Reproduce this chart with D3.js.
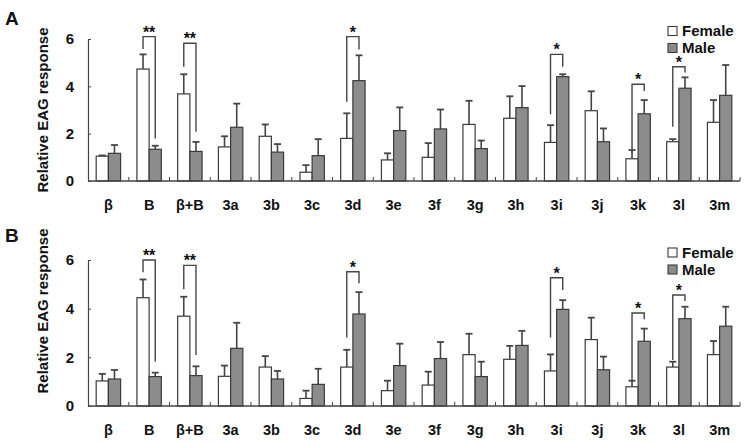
<!DOCTYPE html>
<html><head><meta charset="utf-8">
<script src="https://cdn.jsdelivr.net/npm/d3@7"></script>
<style>
html,body{margin:0;padding:0;background:#fff;}
svg{display:block;}
</style>
</head><body>
<svg id="chart" width="745" height="443"></svg>
<script>
const categories = ["β","B","β+B","3a","3b","3c","3d","3e","3f","3g","3h","3i","3j","3k","3l","3m"];
const yTicks = [0,2,4,6];
const seriesNames = ["Female","Male"];

const femaleA    = [1.05,4.73,3.68,1.44,1.89,0.37,1.80,0.89,1.00,2.39,2.65,1.63,2.97,0.94,1.66,2.48];
const femaleErrA = [0.03,0.62,0.83,0.45,0.50,0.30,1.06,0.28,0.60,1.00,0.93,0.73,0.82,0.37,0.11,0.94];
const maleA      = [1.17,1.34,1.25,2.27,1.22,1.07,4.24,2.13,2.20,1.37,3.10,4.41,1.66,2.84,3.92,3.62];
const maleErrA   = [0.35,0.15,0.40,1.00,0.34,0.70,1.07,0.98,0.82,0.34,0.91,0.10,0.56,0.58,0.46,1.28];

const femaleB    = [1.03,4.45,3.69,1.22,1.60,0.31,1.60,0.63,0.86,2.11,1.92,1.44,2.73,0.79,1.60,2.11];
const femaleErrB = [0.29,0.75,0.80,0.44,0.45,0.32,0.71,0.41,0.55,0.86,0.55,0.68,0.90,0.25,0.22,0.56];
const maleB      = [1.11,1.21,1.25,2.37,1.11,0.89,3.78,1.66,1.95,1.21,2.49,3.97,1.49,2.66,3.59,3.28];
const maleErrB   = [0.37,0.16,0.38,1.05,0.33,0.64,0.90,0.90,0.68,0.61,0.60,0.38,0.54,0.52,0.49,0.80];

// significance brackets: category, label, bracket top, left leg end, right leg end (data units)
const sigCatsA  = ["B","β+B","3d","3i","3k","3l"];
const sigMarksA = ["**","**","*","*","*","*"];
const sigTopA   = [6.10,5.82,6.10,5.35,4.09,4.83];
const sigLeftA  = [5.58,4.83,3.35,2.82,1.17,2.29];
const sigRightA = [1.80,2.08,5.56,4.83,3.80,4.58];

const sigCatsB  = ["B","β+B","3d","3i","3k","3l"];
const sigMarksB = ["**","**","*","*","*","*"];
const sigTopB   = [6.00,5.78,5.52,5.27,3.82,4.56];
const sigLeftB  = [5.50,4.80,2.82,2.82,1.00,1.89];
const sigRightB = [1.82,2.10,5.04,4.77,3.56,4.32];

const svg = d3.select("#chart");
const INK = "#3a3a3a";
const MALE_FILL = "#8c8c8c";
const x = d3.scaleBand().domain(categories).range([88, 740]).paddingInner(0).paddingOuter(0);
const barW = 12.2;

function panel(opts){
  const {letter, letterY, y0, y6, female, femaleErr, male, maleErr, sigCats, sigMarks, sigTop, sigLeft, sigRight, labelCY, legendY} = opts;
  const y = d3.scaleLinear().domain([0,6]).range([y0, y6]);
  const g = svg.append("g");

  // panel letter
  g.append("text").attr("x", 5).attr("y", letterY).text(letter)
    .attr("font-family","Liberation Sans, Arial, sans-serif").attr("font-weight","bold").attr("font-size",19).attr("fill","#111");

  // y label
  g.append("text").attr("transform", `translate(48,${labelCY}) rotate(-90)`).attr("text-anchor","middle")
    .text("Relative EAG response")
    .attr("font-family","Liberation Sans, Arial, sans-serif").attr("font-weight","bold").attr("font-size",15).attr("fill","#111");

  const cx = c => x(c) + x.bandwidth()/2;
  const data = categories.map((c,i)=>({c, f:female[i], fe:femaleErr[i], m:male[i], me:maleErr[i]}));

  // error bars (drawn under bars)
  const err = (val, e, xc) => {
    g.append("line").attr("x1",xc).attr("x2",xc).attr("y1",y(val)).attr("y2",y(val+e)).attr("stroke","#444").attr("stroke-width",1.6);
    g.append("line").attr("x1",xc-3.5).attr("x2",xc+3.5).attr("y1",y(val+e)).attr("y2",y(val+e)).attr("stroke","#444").attr("stroke-width",1.8);
  };
  data.forEach(d=>{
    err(d.f, d.fe, cx(d.c) - barW/2);
    err(d.m, d.me, cx(d.c) + barW/2);
  });

  g.selectAll(".fb").data(data).enter().append("rect")
    .attr("x", d=>cx(d.c)-barW).attr("width", barW)
    .attr("y", d=>y(d.f)).attr("height", d=>y0 - y(d.f))
    .attr("fill","#fff").attr("stroke",INK).attr("stroke-width",1.2);
  g.selectAll(".mb").data(data).enter().append("rect")
    .attr("x", d=>cx(d.c)).attr("width", barW)
    .attr("y", d=>y(d.m)).attr("height", d=>y0 - y(d.m))
    .attr("fill",MALE_FILL).attr("stroke",INK).attr("stroke-width",1.2);

  // y axis
  const ya = d3.axisLeft(y).tickValues(yTicks).tickSizeInner(-3).tickSizeOuter(0).tickPadding(14).tickFormat(d3.format("d"));
  const yg = g.append("g").attr("transform","translate(88,0)").call(ya);
  yg.select(".domain").attr("stroke","#444").attr("stroke-width",1.2);
  yg.selectAll(".tick line").attr("stroke","#444");
  yg.selectAll(".tick text").attr("font-family","Liberation Sans Narrow, Arial Narrow, Liberation Sans, sans-serif")
    .attr("font-weight","bold").attr("font-size",15).attr("fill","#111");

  // x axis
  const xg = g.append("g");
  xg.append("line").attr("x1",88).attr("x2",740).attr("y1",y0).attr("y2",y0).attr("stroke","#444").attr("stroke-width",1.4);
  categories.forEach(c=>{
    const xe = x(c) + x.bandwidth();
    xg.append("line").attr("x1",xe).attr("x2",xe).attr("y1",y0).attr("y2",y0-4).attr("stroke","#444").attr("stroke-width",1);
    xg.append("text").attr("x",cx(c)).attr("y",y0+29).attr("text-anchor","middle").text(c)
      .attr("font-family","Liberation Sans, Arial, sans-serif").attr("font-weight","bold").attr("font-size",14.5).attr("fill","#111");
  });

  // significance brackets
  sigCats.forEach((c,i)=>{
    const xl = cx(c) - barW/2, xr = cx(c) + barW/2;
    const yt = y(sigTop[i]);
    g.append("path").attr("d", `M${xl},${y(sigLeft[i])}V${yt}H${xr}V${y(sigRight[i])}`)
      .attr("fill","none").attr("stroke","#444").attr("stroke-width",1.4);
    g.append("text").attr("x",(xl+xr)/2).attr("y",yt+1).attr("text-anchor","middle").text(sigMarks[i])
      .attr("font-family","Liberation Sans, Arial, sans-serif").attr("font-weight","bold").attr("font-size",16).attr("fill","#111");
  });

  // legend
  const lg = g.append("g").attr("transform",`translate(668,${legendY})`);
  seriesNames.forEach((s,i)=>{
    lg.append("rect").attr("x",0).attr("y",i*17).attr("width",9).attr("height",9)
      .attr("fill", i===0 ? "#fff" : MALE_FILL).attr("stroke",INK).attr("stroke-width",1.1);
    lg.append("text").attr("x",14).attr("y",i*17+9.5).text(s)
      .attr("font-family","Liberation Sans, Arial, sans-serif").attr("font-weight","bold").attr("font-size",15).attr("fill","#111");
  });
}

panel({letter:"A", letterY:25, y0:181, y6:39, female:femaleA, femaleErr:femaleErrA, male:maleA, maleErr:maleErrA,
  sigCats:sigCatsA, sigMarks:sigMarksA, sigTop:sigTopA, sigLeft:sigLeftA, sigRight:sigRightA, labelCY:110, legendY:26.5});
panel({letter:"B", letterY:242, y0:406, y6:260, female:femaleB, femaleErr:femaleErrB, male:maleB, maleErr:maleErrB,
  sigCats:sigCatsB, sigMarks:sigMarksB, sigTop:sigTopB, sigLeft:sigLeftB, sigRight:sigRightB, labelCY:311, legendY:248});
</script>
</body></html>
